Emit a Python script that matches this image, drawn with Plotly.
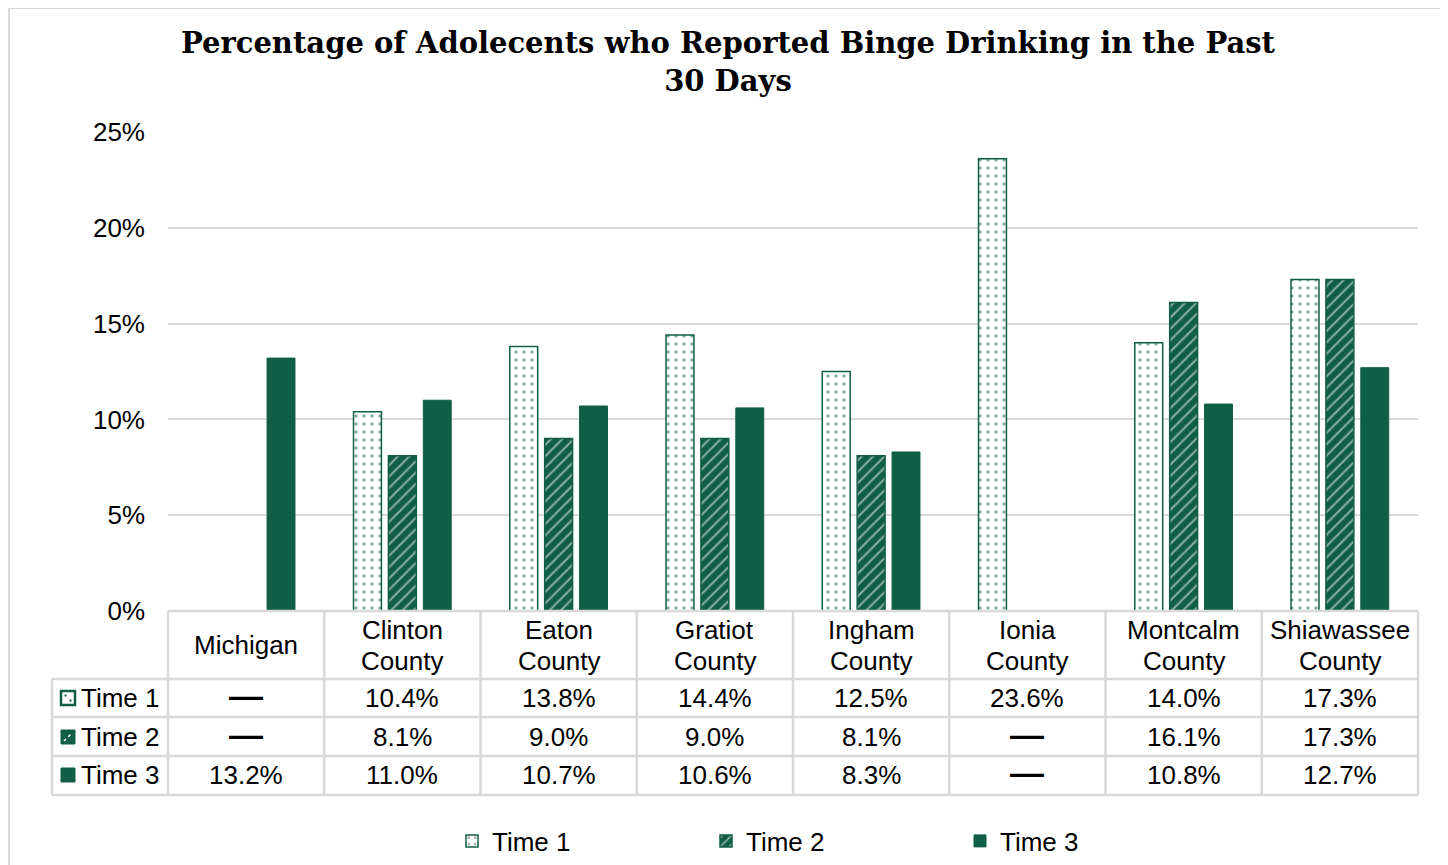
import plotly.graph_objects as go

categories = ["Michigan", "Clinton<br>County", "Eaton<br>County", "Gratiot<br>County",
              "Ingham<br>County", "Ionia<br>County", "Montcalm<br>County", "Shiawassee<br>County"]
series_names = ["Time 1", "Time 2", "Time 3"]
time1 = [None, 10.4, 13.8, 14.4, 12.5, 23.6, 14.0, 17.3]
time2 = [None, 8.1, 9.0, 9.0, 8.1, None, 16.1, 17.3]
time3 = [13.2, 11.0, 10.7, 10.6, 8.3, None, 10.8, 12.7]
y_ticks = [0, 5, 10, 15, 20, 25]
title_text = "Percentage of Adolecents who Reported Binge Drinking in the Past<br>30 Days"

GREEN = "#115E47"
GRID = "#D9D9D9"
FONT = "Liberation Sans, Arial, sans-serif"
FS = 26
# page has an 8px body margin; work in page pixels
W, H = 1440, 857
PL, PT, PR, PB = 168, 132, 1418, 611  # plot area in page pixels
PW, PH = PR - PL, PB - PT

def px_x(p):
    return (p - PL) / PW

def px_y(p):
    return (PB - p) / PH

fig = go.Figure()
fig.add_trace(go.Bar(
    name=series_names[0], x=categories, y=time1,
    marker=dict(color="white", line=dict(color=GREEN, width=1.5),
                pattern=dict(shape=".", fgcolor=GREEN, bgcolor="white", size=8, solidity=0.15)),
))
fig.add_trace(go.Bar(
    name=series_names[1], x=categories, y=time2,
    marker=dict(color=GREEN, line=dict(color=GREEN, width=1.5),
                pattern=dict(shape="/", fgcolor="white", bgcolor=GREEN, size=8, solidity=0.25)),
))
fig.add_trace(go.Bar(
    name=series_names[2], x=categories, y=time3,
    marker=dict(color=GREEN, line=dict(color=GREEN, width=1)),
))

shapes = []
annotations = []

# outer chart border
shapes.append(dict(type="rect", xref="paper", yref="paper",
                   x0=px_x(9), x1=px_x(1443), y0=px_y(880), y1=px_y(8),
                   line=dict(color=GRID, width=2), fillcolor="rgba(0,0,0,0)", layer="below"))

# table grid
row_lines = [611, 679, 717, 756, 795]
for i, yp in enumerate(row_lines):
    x0 = PL if i == 0 else 52
    shapes.append(dict(type="line", xref="paper", yref="paper",
                       x0=px_x(x0), x1=1, y0=px_y(yp), y1=px_y(yp),
                       line=dict(color=GRID, width=2.5)))
n = len(categories)
for k in range(n + 1):
    xv = k / n
    shapes.append(dict(type="line", xref="paper", yref="paper",
                       x0=xv, x1=xv, y0=px_y(611), y1=px_y(795),
                       line=dict(color=GRID, width=2.5)))
shapes.append(dict(type="line", xref="paper", yref="paper",
                   x0=px_x(52), x1=px_x(52), y0=px_y(679), y1=px_y(795),
                   line=dict(color=GRID, width=2.5)))

# title
annotations.append(dict(x=px_x(728), xref="paper", y=px_y(62), yref="paper", text="<b>" + title_text + "</b>",
                        showarrow=False, xanchor="center", yanchor="middle",
                        font=dict(family="DejaVu Serif, serif", size=29, color="black")))

# header row: category names (each line placed separately for tight line spacing)
for c in categories:
    lines = c.split("<br>")
    if len(lines) == 1:
        ys = [645]
    else:
        ys = [630, 661]
    for ln, yp in zip(lines, ys):
        annotations.append(dict(x=c, xref="x", y=px_y(yp), yref="paper", text=ln,
                                showarrow=False, xanchor="center", yanchor="middle",
                                font=dict(family=FONT, size=FS, color="black")))

row_centers = [698, 737, 775]
series_vals = [time1, time2, time3]
for r, (name, vals) in enumerate(zip(series_names, series_vals)):
    yc = px_y(row_centers[r])
    annotations.append(dict(x=px_x(79), xref="paper", y=yc, yref="paper", text=name,
                            showarrow=False, xanchor="left", yanchor="middle",
                            font=dict(family=FONT, size=FS, color="black")))
    # legend key in table
    ky0, ky1 = px_y(row_centers[r] + 7), px_y(row_centers[r] - 7)
    kx0, kx1 = px_x(61), px_x(75)
    if r == 0:
        shapes.append(dict(type="rect", xref="paper", yref="paper", x0=kx0, x1=kx1, y0=ky0, y1=ky1,
                           fillcolor="white", line=dict(color=GREEN, width=2.5)))
        for dx, dy in [(-2.5, -2.5), (2.5, 2.5)]:
            cx, cy = 68 + dx, row_centers[r] + dy
            shapes.append(dict(type="rect", xref="paper", yref="paper",
                               x0=px_x(cx - 1), x1=px_x(cx + 1), y0=px_y(cy + 1), y1=px_y(cy - 1),
                               fillcolor=GREEN, line=dict(width=0)))
    elif r == 1:
        shapes.append(dict(type="rect", xref="paper", yref="paper", x0=kx0, x1=kx1, y0=ky0, y1=ky1,
                           fillcolor=GREEN, line=dict(color=GREEN, width=1)))
        shapes.append(dict(type="line", xref="paper", yref="paper", x0=px_x(64), x1=px_x(72),
                           y0=px_y(row_centers[r] + 4), y1=px_y(row_centers[r] - 4),
                           line=dict(color="white", width=1.5, dash="dot")))
    else:
        shapes.append(dict(type="rect", xref="paper", yref="paper", x0=kx0, x1=kx1, y0=ky0, y1=ky1,
                           fillcolor=GREEN, line=dict(color=GREEN, width=1)))
    for c, v in zip(categories, vals):
        if v is None:
            annotations.append(dict(x=c, xref="x", y=yc + 3 / PH, yref="paper", text="<b>—</b>",
                                    showarrow=False, xanchor="center", yanchor="middle",
                                    font=dict(family=FONT, size=34, color="black")))
        else:
            annotations.append(dict(x=c, xref="x", y=yc, yref="paper", text=f"{v:.1f}%",
                                    showarrow=False, xanchor="center", yanchor="middle",
                                    font=dict(family=FONT, size=FS, color="black")))

fig.update_layout(
    width=W, height=H,
    margin=dict(l=PL - 8, r=W - (PR - 8), t=PT - 8, b=H - (PB - 8), autoexpand=False),
    paper_bgcolor="white", plot_bgcolor="white",
    barmode="group", bargap=0.33, bargroupgap=0.2,
    xaxis=dict(showticklabels=False, showgrid=False, showline=False, zeroline=False, ticks=""),
    yaxis=dict(range=[0, 25], tickvals=y_ticks, ticktext=[f"{t}%" for t in y_ticks],
               showgrid=True, gridcolor=GRID, gridwidth=1.5, zeroline=False, showline=False,
               ticks="", ticklabelstandoff=22,
               tickfont=dict(family=FONT, size=FS, color="black")),
    legend=dict(orientation="h", x=px_x(452), xanchor="left", y=px_y(841), yanchor="middle",
                font=dict(family=FONT, size=FS, color="black"), entrywidth=209,
                itemwidth=30, traceorder="normal"),
    shapes=shapes, annotations=annotations,
)

fig.write_html("out.html")
